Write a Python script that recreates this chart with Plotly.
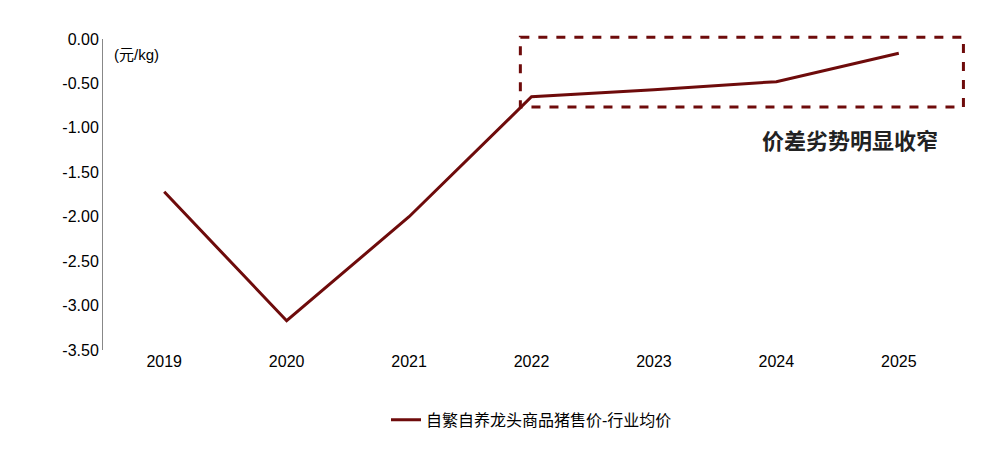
import plotly.graph_objects as go

years = ["2019", "2020", "2021", "2022", "2023", "2024", "2025"]
values = [-1.72, -3.17, -2.00, -0.65, -0.57, -0.48, -0.16]
yticks = [0, -0.5, -1, -1.5, -2, -2.5, -3, -3.5]
yticklabels = ["0.00", "-0.50", "-1.00", "-1.50", "-2.00", "-2.50", "-3.00", "-3.50"]
series_name = "自繁自养龙头商品猪售价-行业均价"
color = "#6E0B0B"

fig = go.Figure()
fig.add_trace(go.Scatter(x=list(range(len(years))), y=values, mode="lines",
                         line=dict(color=color, width=3), name=series_name, showlegend=True))
fig.add_shape(type="rect", x0=0.487, x1=1.004, y0=1.006, y1=0.781, xref="paper", yref="paper",
              line=dict(color=color, width=3, dash="dash"), layer="above")
fig.add_annotation(x=5.6, y=-1.15, xref="x", yref="y", text="<b>价差劣势明显收窄</b>",
                   showarrow=False, font=dict(size=22, color="#222"))
fig.add_annotation(x=0.01, y=0.985, xref="paper", yref="paper", text="(元/kg)",
                   showarrow=False, xanchor="left", yanchor="top", font=dict(size=15, color="#000"))
fig.update_layout(
    width=989, height=458, margin=dict(l=95, r=37, t=31, b=116, autoexpand=False),
    plot_bgcolor="white", paper_bgcolor="white",
    font=dict(family="Arial, Liberation Sans, Noto Sans CJK SC", size=16, color="#000"),
    legend=dict(orientation="h", x=0.5, xanchor="center", y=-0.17, yanchor="top", font=dict(size=16)),
    xaxis=dict(tickmode="array", tickvals=list(range(len(years))), ticktext=years,
               range=[-0.5, 6.5], showgrid=False, showline=False, zeroline=False, ticks=""),
    yaxis=dict(range=[-3.5, 0], tickmode="array", tickvals=yticks, ticktext=yticklabels, showgrid=False,
               showline=True, linecolor="#888", linewidth=1, zeroline=False, ticks=""),
)
fig.write_html("out.html")
